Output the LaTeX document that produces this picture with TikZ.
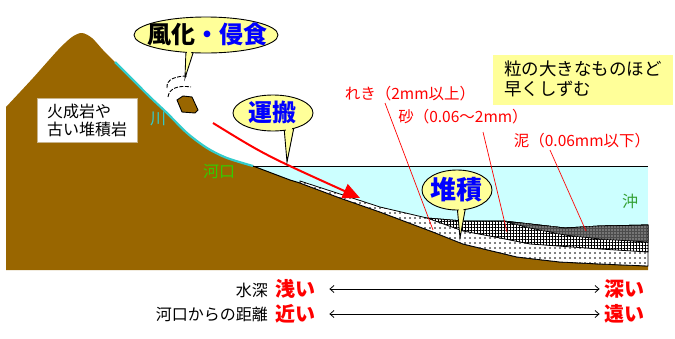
\documentclass[tikz,border=0pt]{standalone}
\usepackage{fontspec}
\setmainfont{Noto Sans CJK JP}
\usetikzlibrary{arrows.meta,patterns.meta}

\definecolor{soil}{HTML}{996600}
\definecolor{sea}{HTML}{CCFFFF}
\definecolor{river}{HTML}{33CCCC}
\definecolor{balloon}{HTML}{FFFF99}
\definecolor{notebox}{HTML}{FFFF99}
\definecolor{mouthgreen}{HTML}{33CC00}
\definecolor{offgreen}{HTML}{33A033}
\definecolor{boxedge}{HTML}{C8B48C}

\tikzset{
  balloonshape/.style={fill=balloon, draw=black, line width=0.9pt},
  balloonfill/.style={fill=balloon},
  balloontext/.style={inner sep=0pt, font=\fontsize{24}{26}\selectfont\bfseries},
  leader/.style={red, line width=0.7pt},
  redlabel/.style={inner sep=0pt, text=red, font=\fontsize{15.5}{18}\selectfont},
  plainlabel/.style={inner sep=0pt, font=\fontsize{16}{19}\selectfont},
  scalelabel/.style={inner sep=0pt, text=red, font=\fontsize{20}{22}\selectfont\bfseries},
  scalearrow/.style={line width=0.8pt, {Straight Barb[length=4pt,width=7pt]}-{Straight Barb[length=4pt,width=7pt]}},
  layeredge/.style={draw=black, line width=0.8pt},
}

\begin{document}
\begin{tikzpicture}[x=1pt,y=-1pt]
\useasboundingbox (0,0) rectangle (675,338);

% sea water
\fill[sea] (253,166) rectangle (648,270);

% land: mountain and sea floor
\fill[soil] (6,270) -- plot[smooth] coordinates {(6,107) (33,78) (58,50) (72,37) (82,33) (92,38) (103,50) (115,62) (133,80) (150,97) (167,113) (187,133) (207,148) (227,158) (253,166)}
  -- (290,180) -- (300,183) -- (340,198) -- (380,212) -- (433,232) -- (463,244) -- (517,257) -- (560,262) -- (600,264) -- (648,266) -- (648,270) -- cycle;

% river on the slope
\draw[river, line width=2.2pt] plot[smooth] coordinates {(115,62) (133,80) (150,97) (167,113) (187,133) (207,148) (227,158) (253,166)};

% sea surface and sea floor
\draw[line width=0.9pt] (253,166) -- (648,166);
\draw[line width=1pt] (253,166) -- (290,180) -- (300,183) -- (340,198) -- (380,212) -- (433,232) -- (463,244) -- (517,257) -- (560,262) -- (600,264) -- (648,266);

% gravel
\path[fill=white, layeredge, postaction={pattern={Dots[distance=5pt,radius=0.85pt]}, pattern color=black}]
  (300,181) -- (340,194) -- (380,207) -- (427,218) -- (463,221) -- (503,221) -- (530,224) -- (565,228) -- (600,226) -- (648,225)
  -- (648,266) -- (600,264) -- (560,262) -- (517,257) -- (463,244) -- (433,232) -- (380,212) -- (340,198) -- (300,183) -- cycle;
% sand
\path[fill=white, layeredge, postaction={pattern={Hatch[angle=0,distance=3pt,line width=0.8pt]}, pattern color=black}]
  (427,218) -- (463,221) -- (503,221) -- (530,224) -- (565,228) -- (600,226) -- (648,225)
  -- (648,252) -- (600,249) -- (530,244) -- (500,238) -- (463,231) -- cycle;
% mud
\path[fill=black!70, layeredge, postaction={pattern={Dots[distance=3pt,radius=0.55pt]}, pattern color=white}]
  (503,221) -- (530,224) -- (565,228) -- (600,226) -- (648,225)
  -- (648,242) -- (600,239) -- (565,235) -- (530,228) -- cycle;

% rock box
\node[draw=boxedge, fill=white, line width=0.8pt, minimum width=100pt, minimum height=44pt,
      align=left, inner sep=2pt, font=\fontsize{16}{18}\selectfont] (rockbox) at (87,120) {火成岩や\\古い堆積岩};

% place labels
\node[plainlabel, text=river] (riverlabel) at (158,119) {川};
\node[plainlabel, text=mouthgreen] (mouthlabel) at (219,172) {河口};
\node[plainlabel, text=offgreen] (offlabel) at (630,201) {沖};

% weathered fragment
\draw[line width=0.9pt, dash pattern=on 4pt off 1.5pt] (167,88) .. controls (166,79) and (176,76) .. (188,76);
\draw[line width=0.9pt, dash pattern=on 4pt off 1.5pt] (168,97) .. controls (169,88) and (179,85) .. (191,87);
\filldraw[fill=soil, draw=black, line width=0.9pt] (177,100) -- (183,96) -- (192,97) -- (198,110) -- (195,113) -- (182,112) -- cycle;

% transport arrow
\coordinate (flowstart) at (213,123);
\coordinate (flowend) at (360,198);
\draw[red, line width=2pt, -{Triangle[length=17pt,width=15pt]}] (flowstart) .. controls (265,155) .. (flowend);

% balloon: weathering and erosion
\draw[balloonshape] (186,50) -- (185,78) -- (194,50);
\draw[balloonshape] (206,35) ellipse [x radius=72, y radius=18];
\fill[balloonfill] (187.5,48) -- (185.6,72) -- (192.5,48) -- cycle;
\node[balloontext] (erosion) at (207,34) {風化{\color{blue}・侵食}};

% balloon: transport
\draw[balloonshape] (284,127) -- (287,162) -- (294,127);
\draw[balloonshape] (273,113) ellipse [x radius=40, y radius=18];
\fill[balloonfill] (285.5,125) -- (287.3,155) -- (292.5,125) -- cycle;
\node[balloontext, text=blue] (transport) at (272,112) {運搬};

% balloon: deposition
\draw[balloonshape] (457,205) -- (460,238) -- (466,205);
\draw[balloonshape] (457,190) ellipse [x radius=35, y radius=20];
\fill[balloonfill] (458.5,203) -- (460.3,231) -- (464.5,203) -- cycle;
\node[balloontext, text=blue, font=\fontsize{26}{28}\selectfont\bfseries] (deposit) at (456,190) {堆積};

% note on settling order
\node[fill=notebox, minimum width=180pt, minimum height=50pt, inner sep=0pt] (notebg) at (583,80) {};
\node[anchor=west, align=left, inner sep=0pt, font=\fontsize{17.5}{20}\selectfont] (note) at (504,79) {粒の大きなものほど\\早くしずむ};

% grain size labels and leaders
\node[redlabel] (gravellabel) at (410,94) {れき（2mm以上）};
\node[redlabel] (sandlabel) at (463,117) {砂（0.06〜2mm）};
\node[redlabel] (mudlabel) at (582,141) {泥（0.06mm以下）};
\coordinate (gravelfrom) at (385,103);
\coordinate (gravelto) at (433,230);
\coordinate (sandfrom) at (483,132);
\coordinate (sandto) at (507,232);
\coordinate (mudfrom) at (550,150);
\coordinate (mudto) at (586,231);
\draw[leader] (gravelfrom) -- (gravelto);
\draw[leader] (sandfrom) -- (sandto);
\draw[leader] (mudfrom) -- (mudto);

% depth and distance scales
\node[plainlabel, anchor=east] (depthlabel) at (268,290) {水深};
\node[scalelabel, anchor=west] (shallow) at (275,289) {浅い};
\node[scalelabel, anchor=east] (deep) at (645,289) {深い};
\draw[scalearrow] ([xshift=14pt]shallow.east) -- ([xshift=-5pt]deep.west);

\node[plainlabel, anchor=east] (distlabel) at (268,314) {河口からの距離};
\node[scalelabel, anchor=west] (near) at (275,314) {近い};
\node[scalelabel, anchor=east] (far) at (645,314) {遠い};
\draw[scalearrow] ([xshift=14pt]near.east) -- ([xshift=-5pt]far.west);
\end{tikzpicture}
\end{document}
